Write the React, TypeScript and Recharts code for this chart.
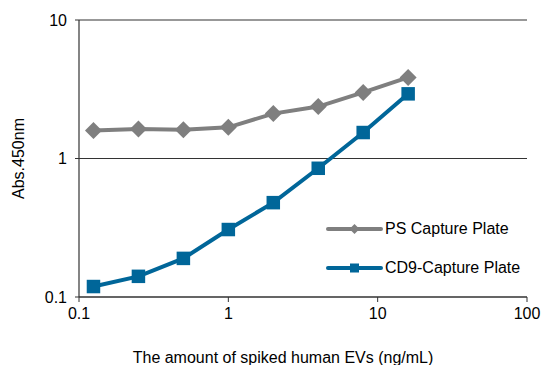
import { LineChart, Line, XAxis, YAxis, CartesianGrid, Legend } from "recharts";

const concentrations = [0.125, 0.25, 0.5, 1, 2, 4, 8, 16];
const psPlate = [1.59, 1.63, 1.61, 1.68, 2.11, 2.37, 3.0, 3.85];
const cd9Plate = [0.119, 0.141, 0.19, 0.307, 0.48, 0.85, 1.54, 2.93];
const xTicks = [0.1, 1, 10, 100];
const yTicks = [0.1, 1, 10];

const GRAY = "#7f7f7f";
const BLUE = "#006699";
const FONT = "'Liberation Sans', Arial, sans-serif";
const FS = 16;

const rows = concentrations.map((x, i) => ({ x, ps: psPlate[i], cd9: cd9Plate[i] }));

// recharts hands dots its own r/fill, so the marker size and colour are fixed here
function Diamond(props: any) {
  const { cx, cy } = props;
  if (cx == null || cy == null) return null;
  const h = 8.5;
  return (
    <path
      d={`M${cx},${cy - h} L${cx + h},${cy} L${cx},${cy + h} L${cx - h},${cy} Z`}
      fill={GRAY}
    />
  );
}

function Square(props: any) {
  const { cx, cy } = props;
  if (cx == null || cy == null) return null;
  const s = 13.5;
  return <rect x={cx - s / 2} y={cy - s / 2} width={s} height={s} fill={BLUE} />;
}

function LegendBox() {
  const items = [
    { label: "PS Capture Plate", color: GRAY, marker: "d" },
    { label: "CD9-Capture Plate", color: BLUE, marker: "s" },
  ];
  return (
    <div style={{ fontFamily: FONT, fontSize: FS, color: "#000" }}>
      {items.map((it) => (
        <div key={it.label} style={{ display: "flex", alignItems: "center", height: 39 }}>
          <svg width={58} height={12} style={{ marginRight: 1 }}>
            <line x1={2} y1={6} x2={55} y2={6} stroke={it.color} strokeWidth={4} strokeLinecap="round" />
            {it.marker === "d" ? (
              <path d="M28.5,1 L33.5,6 L28.5,11 L23.5,6 Z" fill={it.color} />
            ) : (
              <rect x={24} y={1.5} width={9} height={9} fill={it.color} />
            )}
          </svg>
          <span>{it.label}</span>
        </div>
      ))}
    </div>
  );
}

export default function App() {
  return (
    <div style={{ position: "absolute", left: 0, top: 0, background: "#fff" }}>
      <LineChart
        width={541}
        height={365}
        data={rows}
        margin={{ top: 20, right: 14, bottom: 0, left: 0 }}
      >
        <CartesianGrid vertical={false} stroke="#333" strokeWidth={1.2} />
        <XAxis
          dataKey="x"
          type="number"
          scale="log"
          domain={[0.1, 100]}
          ticks={xTicks}
          allowDataOverflow
          height={68}
          tickSize={5}
          tickMargin={6}
          tickFormatter={(v: number) => String(v)}
          axisLine={{ stroke: "#333", strokeWidth: 1.2 }}
          tickLine={{ stroke: "#333" }}
          tick={{ fill: "#000", fontSize: FS, fontFamily: FONT }}
          label={{
            value: "The amount of spiked human EVs (ng/mL)",
            position: "insideBottom",
            offset: 2,
            dx: -20,
            style: { fill: "#000", fontSize: FS, fontFamily: FONT },
          }}
        />
        <YAxis
          type="number"
          scale="log"
          domain={[0.1, 10]}
          ticks={yTicks}
          allowDataOverflow
          width={79}
          tickSize={4}
          tickMargin={8}
          tickFormatter={(v: number) => String(v)}
          axisLine={{ stroke: "#333", strokeWidth: 1.2 }}
          tickLine={{ stroke: "#333" }}
          tick={{ fill: "#000", fontSize: FS, fontFamily: FONT }}
          label={{
            value: "Abs.450nm",
            angle: -90,
            position: "insideLeft",
            offset: 18,
            style: { fill: "#000", fontSize: FS, fontFamily: FONT, textAnchor: "middle" },
          }}
        />
        <Legend
          content={<LegendBox />}
          layout="vertical"
          verticalAlign="middle"
          align="center"
          wrapperStyle={{ position: "absolute", left: 326, top: 209, width: 214 }}
        />
        <Line
          dataKey="ps"
          name="PS Capture Plate"
          stroke={GRAY}
          strokeWidth={4}
          dot={<Diamond />}
          activeDot={false}
          isAnimationActive={false}
        />
        <Line
          dataKey="cd9"
          name="CD9-Capture Plate"
          stroke={BLUE}
          strokeWidth={4}
          dot={<Square />}
          activeDot={false}
          isAnimationActive={false}
        />
      </LineChart>
    </div>
  );
}
